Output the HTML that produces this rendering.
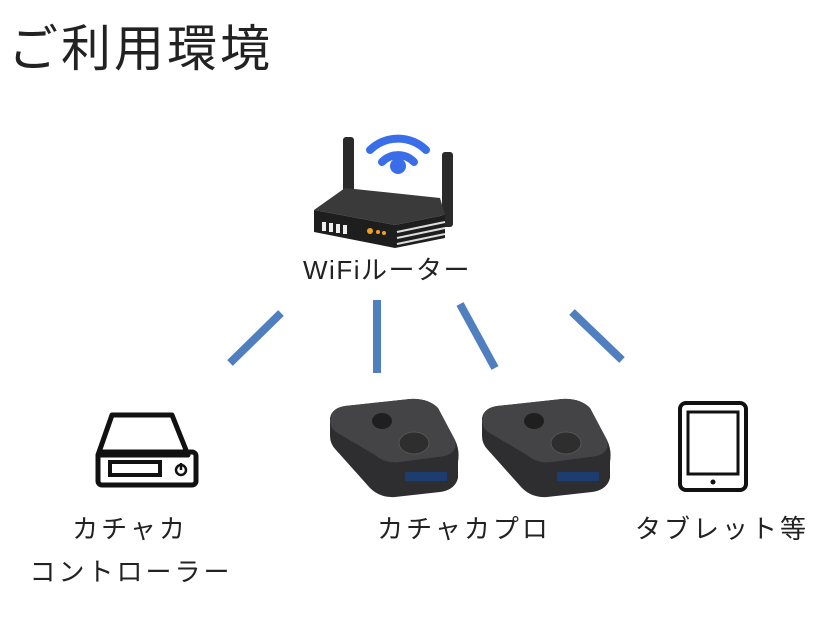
<!DOCTYPE html>
<html><head><meta charset="utf-8"><style>
body{margin:0;background:#fff;}
svg{display:block}
text{font-family:"Liberation Sans","Noto Sans CJK JP",sans-serif;fill:#222}
</style></head><body>
<svg width="825" height="631" viewBox="0 0 825 631" xmlns="http://www.w3.org/2000/svg">
<text x="8" y="66" font-size="50" letter-spacing="3">ご利用環境</text>
<!-- router -->
<rect x="343" y="137" width="11" height="75" rx="3" fill="#2a2a2a"/>
<rect x="442" y="152" width="11" height="75" rx="3" fill="#2a2a2a"/>
<path d="M370 150 A40 40 0 0 1 426 150" stroke="#3a6ee8" stroke-width="8" fill="none" stroke-linecap="round"/>
<path d="M382 162 A22 22 0 0 1 414 162" stroke="#3a6ee8" stroke-width="8" fill="none" stroke-linecap="round"/>
<circle cx="398" cy="166" r="8" fill="#3a6ee8"/>
<path d="M314 210 L345 188 L440 198 L445 215 L395 225 Z" fill="#3a3a3a"/>
<path d="M314 210 L395 225 L445 215 L445 238 L395 248 L314 232 Z" fill="#1e1e1e"/>
<rect x="322" y="222" width="4" height="9" fill="#eee"/><rect x="329" y="223" width="4" height="9" fill="#eee"/><rect x="336" y="224" width="4" height="9" fill="#eee"/><rect x="343" y="225" width="4" height="9" fill="#eee"/>
<circle cx="370" cy="231" r="3" fill="#f0a020"/><circle cx="378" cy="232" r="2" fill="#f0a020"/><circle cx="384" cy="233" r="2" fill="#f0a020"/>
<path d="M397 232 L445 222 M397 238 L445 228 M397 244 L445 234" stroke="#ddd" stroke-width="2"/>
<text x="387" y="279" font-size="26" letter-spacing="1.5" text-anchor="middle">WiFiルーター</text>
<!-- lines -->
<g stroke="#4f7fbf" stroke-width="8">
<line x1="281" y1="313" x2="230" y2="363"/>
<line x1="377" y1="300" x2="377" y2="373"/>
<line x1="460" y1="304" x2="495" y2="368"/>
<line x1="572" y1="312" x2="622" y2="360"/>
</g>
<!-- controller icon -->
<path d="M112 415 L172 415 L188 455 L98 455 Z" fill="none" stroke="#111" stroke-width="5" stroke-linejoin="round"/>
<rect x="98" y="452" width="98" height="33" rx="4" fill="none" stroke="#111" stroke-width="5"/>
<rect x="110" y="462" width="50" height="13" fill="none" stroke="#111" stroke-width="4"/>
<circle cx="181" cy="470" r="5" fill="none" stroke="#111" stroke-width="2.5"/>
<line x1="181" y1="463" x2="181" y2="470" stroke="#111" stroke-width="2.5"/>
<text x="130" y="538" font-size="26" letter-spacing="3" text-anchor="middle">カチャカ</text>
<text x="131" y="581" font-size="26" letter-spacing="3" text-anchor="middle">コントローラー</text>
<!-- kachaka pro devices -->
<g id="d">
<path d="M330 418 Q332 408 345 406 L410 399 Q428 398 438 408 L455 440 Q460 450 458 462 L458 478 Q455 490 440 492 L395 497 Q380 498 370 488 L336 450 Q330 444 330 436 Z" fill="#2e2e30"/>
<path d="M330 418 Q332 408 345 406 L410 399 Q428 398 438 408 L455 440 Q458 452 445 456 L400 462 Q385 464 375 455 L336 432 Q330 428 330 418Z" fill="#444446"/>
<ellipse cx="382" cy="421" rx="10" ry="8" fill="#1f1f1f"/>
<ellipse cx="414" cy="443" rx="15" ry="11" fill="#2e2e2e" stroke="#555"/>
<rect x="405" y="472" width="42" height="9" fill="#1d3d6e"/>
</g>
<use href="#d" transform="translate(152,0)"/>
<text x="464" y="538" font-size="26" letter-spacing="3" text-anchor="middle">カチャカプロ</text>
<!-- tablet -->
<rect x="680" y="403" width="66" height="87" rx="6" fill="none" stroke="#111" stroke-width="4"/>
<rect x="688" y="412" width="50" height="62" fill="none" stroke="#111" stroke-width="3"/>
<circle cx="713" cy="482" r="2.5" fill="#111"/>
<text x="722" y="538" font-size="26" letter-spacing="3" text-anchor="middle">タブレット等</text>
</svg>
</body></html>
